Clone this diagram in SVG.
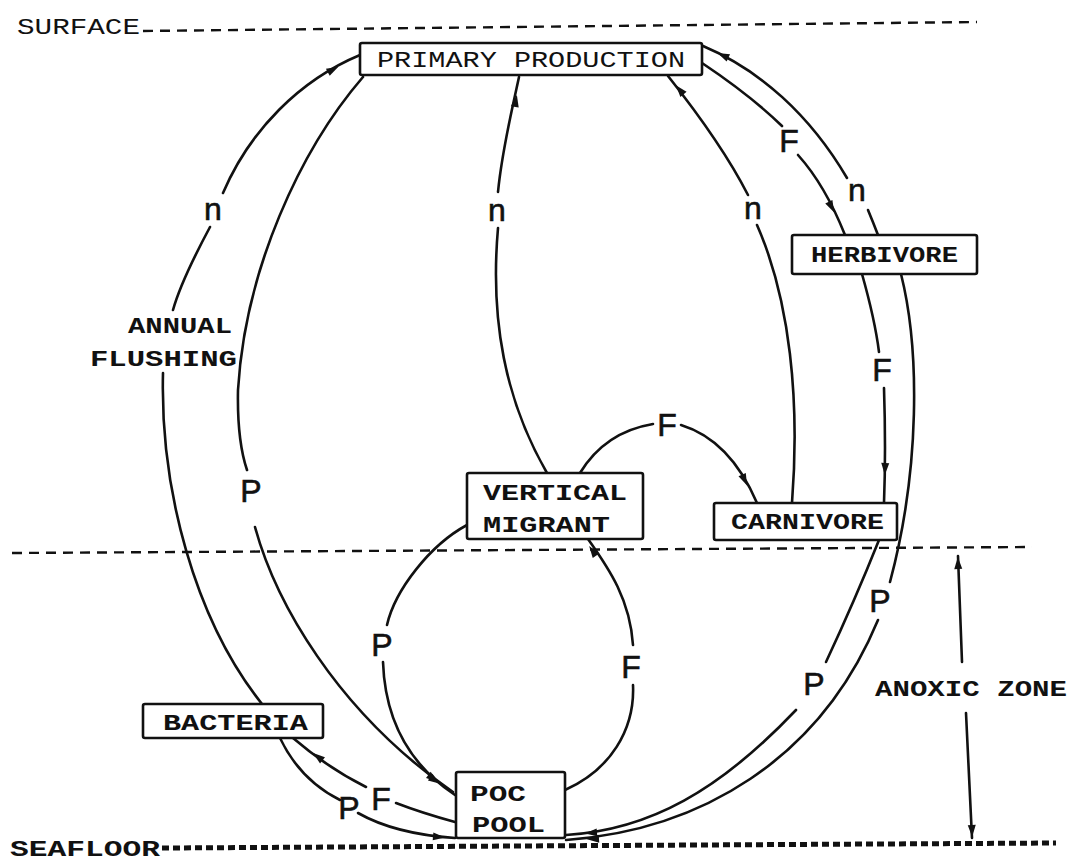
<svg xmlns="http://www.w3.org/2000/svg" xmlns:xlink="http://www.w3.org/1999/xlink" width="1071" height="862" viewBox="0 0 1071 862">
<defs>
<style>
.bg{fill:#fff}
.box{fill:#fff;stroke:#111;stroke-width:2.6}
.ln{fill:none;stroke:#111;stroke-width:2.6;stroke-linecap:round}
.dash{fill:none;stroke:#111;stroke-width:2.4;stroke-dasharray:10 7}
.sea{fill:none;stroke:#111;stroke-width:5;stroke-dasharray:7 4}
.t{font-family:"Liberation Mono","DejaVu Sans Mono",monospace;font-size:22px;fill:#111}
.tb{font-family:"Liberation Mono","DejaVu Sans Mono",monospace;font-size:22px;font-weight:bold;fill:#111}
.lab{font-family:"Liberation Sans","DejaVu Sans",sans-serif;font-size:32px;fill:#111;stroke:#111;stroke-width:0.6;text-anchor:middle}
</style>
<path id="ah" d="M-7,-4 L5,0 L-7,4 Z" fill="#111"/>
</defs>
<rect class="bg" x="0" y="0" width="1071" height="862"/>

<g id="levels">
<text class="t" x="17" y="34" textLength="123" lengthAdjust="spacingAndGlyphs">SURFACE</text>
<line class="dash" x1="143" y1="31" x2="977" y2="22"/>
<line class="dash" x1="12" y1="553" x2="1032" y2="547"/>
<line class="sea" x1="162" y1="848" x2="1056" y2="843"/>
<text class="tb" x="10" y="856" font-size="23" textLength="150" lengthAdjust="spacingAndGlyphs">SEAFLOOR</text>
<text class="tb" x="128" y="333" textLength="104" lengthAdjust="spacingAndGlyphs">ANNUAL</text>
<text class="tb" x="90" y="366" textLength="147" lengthAdjust="spacingAndGlyphs">FLUSHING</text>
<text class="tb" x="875" y="696" textLength="192" lengthAdjust="spacingAndGlyphs">ANOXIC ZONE</text>
<path class="ln" d="M958,556 L962,662 M966,713 L972,838"/>
<use xlink:href="#ah" transform="translate(958,562) rotate(-92)"/>
<use xlink:href="#ah" transform="translate(972,832) rotate(88)"/>
</g>

<g id="connectors">
<!-- 1 annual flushing n -->
<path class="ln" d="M360,55 C300,80 250,130 223,193"/>
<path class="ln" d="M210,227 C195,255 180,285 173,310"/>
<path class="ln" d="M163,373 C160,490 195,620 262,704"/>
<use xlink:href="#ah" transform="translate(334,69) rotate(-28)"/>
<text class="lab" x="213" y="220">n</text>
<!-- 2 PP to POC P -->
<path class="ln" d="M363,77 C300,150 245,270 238,390 Q237,440 247,470"/>
<path class="ln" d="M255,527 C275,600 335,710 453,792"/>
<use xlink:href="#ah" transform="translate(436,781) rotate(34)"/>
<text class="lab" x="251" y="502">P</text>
<!-- 3 VM to PP n -->
<path class="ln" d="M547,473 C505,400 490,320 498,228"/>
<path class="ln" d="M498,192 C502,150 512,110 519,77"/>
<use xlink:href="#ah" transform="translate(516,100) rotate(-80)"/>
<text class="lab" x="497" y="221">n</text>
<!-- 4 carnivore to PP n -->
<path class="ln" d="M792,503 C800,400 790,300 757,225"/>
<path class="ln" d="M748,195 C725,150 695,110 668,76"/>
<use xlink:href="#ah" transform="translate(679,89) rotate(-130)"/>
<text class="lab" x="753" y="219">n</text>
<!-- 5 PP to herbivore F -->
<path class="ln" d="M702,63 Q750,95 782,126"/>
<path class="ln" d="M798,155 Q825,185 845,235"/>
<use xlink:href="#ah" transform="translate(832,208) rotate(63)"/>
<text class="lab" x="789" y="152">F</text>
<!-- 6 herbivore to PP n -->
<path class="ln" d="M878,235 Q873,222 868,210"/>
<path class="ln" d="M847,178 C810,115 760,70 703,46"/>
<use xlink:href="#ah" transform="translate(722,55) rotate(-155)"/>
<text class="lab" x="857" y="201">n</text>
<!-- 7 herbivore to carnivore F -->
<path class="ln" d="M862,274 Q875,320 879,352"/>
<path class="ln" d="M884,388 Q886,450 884,503"/>
<use xlink:href="#ah" transform="translate(885,470) rotate(92)"/>
<text class="lab" x="882" y="381">F</text>
<!-- 8 VM to carnivore F -->
<path class="ln" d="M580,473 Q605,432 653,424"/>
<path class="ln" d="M681,425 Q730,440 757,503"/>
<use xlink:href="#ah" transform="translate(745,481) rotate(66)"/>
<text class="lab" x="667" y="436">F</text>
<!-- 9 herbivore to POC outer P -->
<path class="ln" d="M901,274 C920,350 920,470 890,582"/>
<path class="ln" d="M878,620 C820,760 700,830 566,840"/>
<use xlink:href="#ah" transform="translate(592,839) rotate(177)"/>
<text class="lab" x="880" y="612">P</text>
<!-- 10 carnivore to POC inner P -->
<path class="ln" d="M879,540 Q855,600 826,662"/>
<path class="ln" d="M796,710 C720,790 650,830 566,835"/>
<use xlink:href="#ah" transform="translate(590,833) rotate(175)"/>
<text class="lab" x="814" y="695">P</text>
<!-- 11 POC to VM F -->
<path class="ln" d="M588,539 C610,570 630,600 633,645"/>
<path class="ln" d="M633,685 C635,730 610,770 565,790"/>
<use xlink:href="#ah" transform="translate(592,550) rotate(-125)"/>
<text class="lab" x="631" y="678">F</text>
<!-- 12 VM to POC P -->
<path class="ln" d="M467,525 C430,545 395,590 387,625"/>
<path class="ln" d="M383,662 C385,720 410,765 455,795"/>
<use xlink:href="#ah" transform="translate(434,779) rotate(36)"/>
<text class="lab" x="382" y="656">P</text>
<!-- 13 POC to bacteria F -->
<path class="ln" d="M455,822 Q422,813 396,803"/>
<path class="ln" d="M366,787 Q328,768 293,738"/>
<use xlink:href="#ah" transform="translate(317,756) rotate(-142)"/>
<text class="lab" x="381" y="810">F</text>
<!-- 14 bacteria to POC P -->
<path class="ln" d="M280,738 Q300,780 340,800"/>
<path class="ln" d="M358,813 Q395,834 455,838"/>
<use xlink:href="#ah" transform="translate(440,837) rotate(5)"/>
<text class="lab" x="349" y="819">P</text>
</g>

<g id="primary-production">
<rect class="box" x="360" y="43" width="342" height="32" rx="2"/>
<text class="t" x="377" y="67" textLength="308" lengthAdjust="spacingAndGlyphs">PRIMARY PRODUCTION</text>
</g>
<g id="herbivore">
<rect class="box" x="792" y="235" width="185" height="39" rx="2"/>
<text class="tb" x="811" y="262" textLength="147" lengthAdjust="spacingAndGlyphs">HERBIVORE</text>
</g>
<g id="carnivore">
<rect class="box" x="714" y="503" width="183" height="37" rx="2"/>
<text class="tb" x="731" y="529" textLength="153" lengthAdjust="spacingAndGlyphs">CARNIVORE</text>
</g>
<g id="vertical-migrant">
<rect class="box" x="467" y="473" width="176" height="66" rx="2"/>
<text class="tb" x="483" y="500" textLength="144" lengthAdjust="spacingAndGlyphs">VERTICAL</text>
<text class="tb" x="483" y="532" textLength="127" lengthAdjust="spacingAndGlyphs">MIGRANT</text>
</g>
<g id="bacteria">
<rect class="box" x="143" y="704" width="180" height="34" rx="2"/>
<text class="tb" x="163" y="730" textLength="145" lengthAdjust="spacingAndGlyphs">BACTERIA</text>
</g>
<g id="poc-pool">
<rect class="box" x="456" y="772" width="109" height="66" rx="2"/>
<text class="tb" x="470" y="801" textLength="56" lengthAdjust="spacingAndGlyphs">POC</text>
<text class="tb" x="472" y="832" textLength="73" lengthAdjust="spacingAndGlyphs">POOL</text>
</g>
</svg>
